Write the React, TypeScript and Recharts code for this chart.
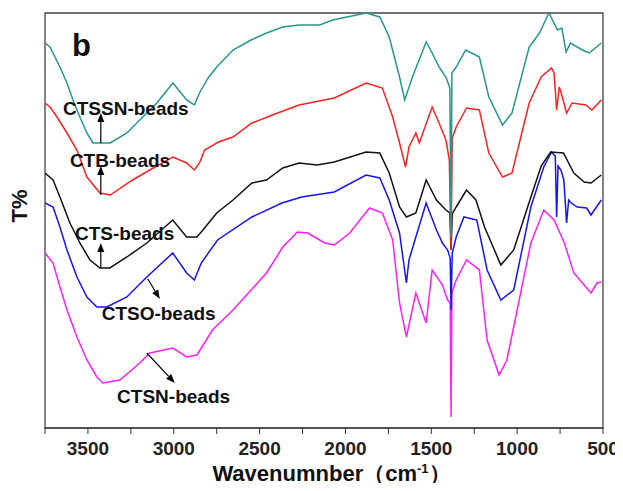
import { LineChart, Line, XAxis, YAxis, ReferenceArea, ReferenceLine, ReferenceDot } from 'recharts';

// [wavenumber, transmittance (arbitrary units, offset per trace)]
const CTSSN: [number, number][] = [
  [3750, 385], [3721, 381], [3692, 371], [3663, 361], [3622, 345], [3587, 328], [3547, 311], [3506, 295],
  [3471, 285], [3370, 285], [3273, 295], [3198, 308], [3099, 325], [3005, 345], [2925, 328], [2880, 323],
  [2850, 335], [2800, 350], [2750, 361], [2655, 378], [2550, 388], [2460, 395], [2365, 401], [2270, 403],
  [2150, 403], [2075, 408], [1880, 415], [1800, 411], [1745, 391], [1685, 351], [1655, 328], [1610, 351],
  [1530, 386], [1495, 375], [1455, 361], [1415, 351], [1392, 340], [1385, 191], [1380, 355], [1355, 361],
  [1300, 378], [1220, 371], [1165, 331], [1085, 303], [1030, 315], [930, 381], [870, 395], [815, 415],
  [765, 398], [740, 400], [715, 376], [690, 385], [620, 378], [580, 375], [510, 385],
];

const CTB: [number, number][] = [
  [3750, 325], [3721, 321], [3680, 311], [3622, 295], [3564, 278], [3506, 251], [3430, 235], [3370, 233],
  [3240, 248], [3140, 258], [3005, 271], [2925, 265], [2880, 258], [2850, 265], [2820, 278], [2740, 286],
  [2655, 291], [2545, 305], [2395, 315], [2270, 323], [2065, 330], [1880, 345], [1785, 340], [1725, 311],
  [1685, 285], [1650, 261], [1630, 281], [1590, 295], [1570, 285], [1495, 321], [1455, 305], [1415, 288],
  [1395, 268], [1385, 178], [1378, 290], [1355, 301], [1295, 320], [1220, 318], [1165, 275], [1085, 251],
  [1030, 255], [930, 325], [860, 351], [800, 360], [785, 355], [770, 318], [755, 341], [745, 336],
  [712, 315], [680, 325], [600, 323], [565, 318], [510, 328],
];

const CTS: [number, number][] = [
  [3750, 255], [3703, 248], [3663, 231], [3605, 205], [3547, 185], [3488, 168], [3430, 160], [3372, 160],
  [3273, 171], [3157, 185], [3006, 208], [2925, 191], [2865, 191], [2830, 198], [2750, 215], [2655, 228],
  [2545, 245], [2460, 248], [2365, 260], [2270, 265], [2165, 263], [2065, 266], [1880, 276], [1800, 275],
  [1745, 255], [1685, 221], [1645, 211], [1590, 215], [1530, 248], [1470, 228], [1415, 218], [1392, 215],
  [1385, 178], [1378, 214], [1355, 221], [1295, 238], [1240, 228], [1190, 201], [1150, 185], [1095, 163],
  [1020, 178], [920, 231], [860, 262], [805, 276], [730, 275], [670, 255], [610, 246], [570, 245], [510, 253],
];

const CTSO: [number, number][] = [
  [3750, 225], [3703, 221], [3663, 201], [3622, 178], [3564, 151], [3506, 131], [3448, 121], [3390, 121],
  [3273, 131], [3157, 151], [3006, 175], [2925, 155], [2880, 148], [2840, 165], [2745, 188], [2545, 211],
  [2370, 225], [2255, 231], [2065, 236], [1880, 253], [1800, 250], [1745, 228], [1685, 195], [1645, 145],
  [1630, 168], [1590, 191], [1530, 225], [1470, 198], [1435, 185], [1405, 178], [1390, 170], [1385, 118],
  [1378, 175], [1355, 191], [1310, 211], [1235, 208], [1175, 158], [1095, 128], [1020, 138], [920, 221],
  [845, 261], [800, 276], [778, 272], [770, 211], [762, 262], [745, 258], [728, 248], [712, 205],
  [700, 228], [685, 225], [650, 221], [595, 220], [570, 213], [510, 228],
];

const CTSN: [number, number][] = [
  [3750, 175], [3703, 165], [3663, 141], [3622, 118], [3564, 91], [3506, 68], [3448, 51], [3413, 45],
  [3314, 48], [3198, 65], [3140, 75], [3005, 80], [2925, 71], [2865, 73], [2775, 98], [2655, 118],
  [2460, 155], [2365, 181], [2280, 196], [2220, 195], [2120, 185], [2065, 183], [1975, 195], [1860, 220],
  [1785, 215], [1725, 188], [1685, 125], [1645, 91], [1590, 135], [1530, 105], [1495, 158], [1435, 143],
  [1405, 128], [1390, 125], [1385, 11], [1380, 135], [1355, 148], [1295, 168], [1220, 158], [1175, 88],
  [1105, 53], [1060, 68], [1000, 118], [920, 185], [845, 218], [785, 208], [725, 185], [670, 155],
  [620, 145], [570, 135], [535, 145], [510, 146],
];

const TICKS = [3750, 3500, 3250, 3000, 2750, 2500, 2250, 2000, 1750, 1500, 1250, 1000, 750, 500];

const toRows = (pts: [number, number][]) => pts.map(([wn, v]) => ({ wn, v }));

const SERIES = [
  { name: 'CTSN-beads', pts: CTSN, color: '#ff1cff' },
  { name: 'CTSO-beads', pts: CTSO, color: '#1414f0' },
  { name: 'CTS-beads', pts: CTS, color: '#111111' },
  { name: 'CTB-beads', pts: CTB, color: '#ff2020' },
  { name: 'CTSSN-beads', pts: CTSSN, color: '#23988f' },
];

// annotation anchors: label [wn, v] and arrow [from wn, from v, to wn, to v]
const LABELS: { text: string; at: [number, number]; arrow: [number, number, number, number] }[] = [
  { text: 'CTSSN-beads', at: [3645, 313], arrow: [3425, 285, 3425, 315] },
  { text: 'CTB-beads', at: [3605, 261], arrow: [3425, 233, 3425, 262] },
  { text: 'CTS-beads', at: [3575, 188], arrow: [3425, 160, 3425, 185] },
  { text: 'CTSO-beads', at: [3420, 108], arrow: [3151, 149, 3081, 129] },
  { text: 'CTSN-beads', at: [3330, 25], arrow: [3157, 75, 2994, 45] },
];

const FONT = '"Liberation Sans", Arial, sans-serif';

function ArrowShape(props: any) {
  const { x1, y1, x2, y2 } = props;
  if ([x1, y1, x2, y2].some(n => typeof n !== 'number' || isNaN(n))) return null;
  const ang = Math.atan2(y2 - y1, x2 - x1);
  const len = 9;
  const w = 3.5;
  const bx = x2 - len * Math.cos(ang);
  const by = y2 - len * Math.sin(ang);
  const px = -Math.sin(ang) * w;
  const py = Math.cos(ang) * w;
  return (
    <g>
      <line x1={x1} y1={y1} x2={bx} y2={by} stroke="#000" strokeWidth={1.2} />
      <polygon points={`${x2},${y2} ${bx + px},${by + py} ${bx - px},${by - py}`} fill="#000" />
    </g>
  );
}

const textShape = (text: string) => (props: any) => (
  <text x={props.cx} y={props.cy} fontSize={19} fontWeight="bold" fontFamily={FONT} fill="#111">
    {text}
  </text>
);

export default function App() {
  return (
    <div style={{ position: 'relative', width: 607, height: 475, fontFamily: FONT }}>
      <style>{`html, body { overflow: hidden; } .recharts-wrapper, .recharts-surface { overflow: visible !important; }`}</style>
      <LineChart width={615} height={475} margin={{ top: 5, right: 20, bottom: 0, left: 37 }}>
        <XAxis
          dataKey="wn"
          type="number"
          domain={[500, 3750]}
          reversed
          allowDataOverflow
          ticks={TICKS}
          interval={0}
          tickFormatter={(v: number) => (v % 500 === 0 && v !== 3750 ? String(v) : '')}
          tick={{ fontSize: 19, fontWeight: 'bold', fill: '#222', fontFamily: FONT }}
          tickSize={6}
          tickMargin={8}
          stroke="#333"
          height={55}
        />
        <YAxis type="number" domain={[0, 415]} hide allowDataOverflow />
        <ReferenceArea x1={3750} x2={500} y1={0} y2={415} fill="none" stroke="#444" strokeWidth={1.3} />
        {SERIES.map(s => (
          <Line
            key={s.name}
            data={toRows(s.pts)}
            dataKey="v"
            type="linear"
            stroke={s.color}
            strokeWidth={1.5}
            dot={false}
            isAnimationActive={false}
          />
        ))}
        {LABELS.map(l => (
          <ReferenceLine
            key={l.text + '-arrow'}
            segment={[{ x: l.arrow[0], y: l.arrow[1] }, { x: l.arrow[2], y: l.arrow[3] }]}
            shape={ArrowShape}
          />
        ))}
        {LABELS.map(l => (
          <ReferenceDot key={l.text} x={l.at[0]} y={l.at[1]} r={1} shape={textShape(l.text)} />
        ))}
      </LineChart>
      <div style={{ position: 'absolute', left: 64, top: 20, fontSize: 31, fontWeight: 'bold', color: '#111' }}>b</div>
      <div
        style={{
          position: 'absolute', left: -6, top: 186, width: 36, textAlign: 'center',
          transform: 'rotate(-90deg)', fontSize: 22, fontWeight: 'bold', color: '#111', lineHeight: '24px',
        }}
      >
        T%
      </div>
      <div
        style={{
          position: 'absolute', left: 0, width: 615, boxSizing: 'border-box', paddingLeft: 32, top: 453,
          textAlign: 'center', fontSize: 22, fontWeight: 'bold', color: '#111', lineHeight: '26px',
          whiteSpace: 'nowrap',
        }}
      >
        Wavenumnber（cm<sup style={{ fontSize: 13, lineHeight: 0 }}>-1</sup>）
      </div>
    </div>
  );
}
